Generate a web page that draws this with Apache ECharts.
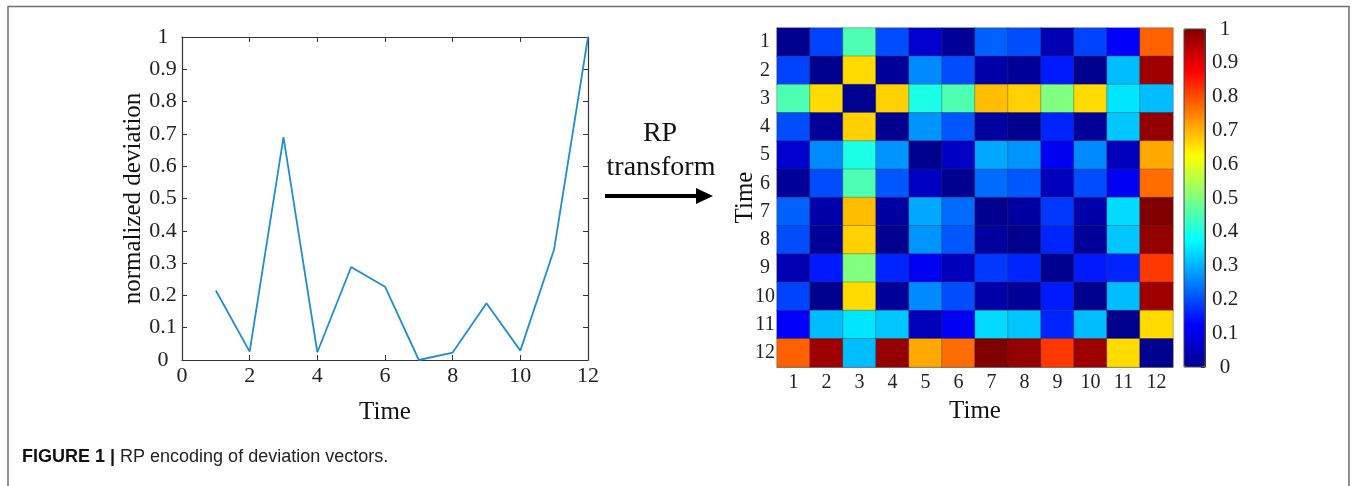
<!DOCTYPE html>
<html>
<head>
<meta charset="utf-8">
<script src="https://cdn.jsdelivr.net/npm/echarts@6/dist/echarts.min.js"></script>
<style>
  html, body { margin: 0; padding: 0; background: #fff; }
  #chart { width: 1356px; height: 486px; }
</style>
</head>
<body>
<div id="chart"></div>
<script>
// time steps and normalized deviation
const times = [1, 2, 3, 4, 5, 6, 7, 8, 9, 10, 11, 12];
const deviation = [0.215, 0.026, 0.69, 0.024, 0.288, 0.227, 0.0, 0.023, 0.176, 0.029, 0.343, 1.0];

// recurrence plot cells (row = y time, col = x time)
const rpRows = [
  [0.00, 0.19, 0.45, 0.20, 0.07, 0.01, 0.22, 0.20, 0.04, 0.19, 0.12, 0.78],
  [0.19, 0.00, 0.66, 0.01, 0.26, 0.20, 0.03, 0.01, 0.15, 0.00, 0.31, 0.97],
  [0.45, 0.66, 0.00, 0.67, 0.40, 0.45, 0.69, 0.67, 0.50, 0.66, 0.35, 0.31],
  [0.20, 0.01, 0.67, 0.00, 0.27, 0.21, 0.02, 0.00, 0.16, 0.01, 0.32, 0.98],
  [0.07, 0.26, 0.40, 0.27, 0.00, 0.06, 0.29, 0.27, 0.11, 0.26, 0.05, 0.71],
  [0.01, 0.20, 0.45, 0.21, 0.06, 0.00, 0.23, 0.21, 0.05, 0.20, 0.11, 0.77],
  [0.22, 0.03, 0.69, 0.02, 0.29, 0.23, 0.00, 0.02, 0.18, 0.03, 0.34, 1.00],
  [0.20, 0.01, 0.67, 0.00, 0.27, 0.21, 0.02, 0.00, 0.16, 0.01, 0.32, 0.98],
  [0.04, 0.15, 0.50, 0.16, 0.11, 0.05, 0.18, 0.16, 0.00, 0.15, 0.16, 0.82],
  [0.19, 0.00, 0.66, 0.01, 0.26, 0.20, 0.03, 0.01, 0.15, 0.00, 0.31, 0.97],
  [0.12, 0.31, 0.35, 0.32, 0.05, 0.11, 0.34, 0.32, 0.16, 0.31, 0.00, 0.66],
  [0.78, 0.97, 0.31, 0.98, 0.71, 0.77, 1.00, 0.98, 0.82, 0.97, 0.66, 0.00]
];
const timeLabels = ['1', '2', '3', '4', '5', '6', '7', '8', '9', '10', '11', '12'];
const jetColors = ['#00008f', '#0000ff', '#0080ff', '#00ffff', '#80ff80', '#ffff00', '#ff8000', '#ff0000', '#800000'];

const serif = 'Liberation Serif';
const axisColor = '#333';

const lineData = times.map((t, i) => [t, deviation[i]]);
const heatData = [];
rpRows.forEach((row, r) => {
  row.forEach((v, c) => heatData.push([c, r, v]));
});

const chart = echarts.init(document.getElementById('chart'));

// matlab style box: all four sides, ticks pointing in
const boxAxis = (extra) => Object.assign({
  type: 'value',
  axisLine: { show: true, onZero: false, lineStyle: { color: axisColor, width: 1.2 } },
  axisTick: { show: true, inside: true, length: 5, lineStyle: { color: axisColor } },
  splitLine: { show: false },
  axisLabel: { show: false }
}, extra);

chart.setOption({
  animation: false,
  backgroundColor: '#fff',
  grid: [
    { left: 182, top: 37, width: 406, height: 323 },
    { left: 777, top: 28, width: 396, height: 339 },
    { left: 1184, top: 29, width: 21, height: 338 }
  ],
  xAxis: [
    boxAxis({
      gridIndex: 0, min: 0, max: 12, interval: 2, position: 'bottom',
      axisLabel: { show: true, margin: 5, fontFamily: serif, fontSize: 22, color: '#222' },
      name: 'Time', nameLocation: 'middle', nameGap: 40, nameMoveOverlap: false,
      nameTextStyle: { fontFamily: serif, fontSize: 25, color: '#111' }
    }),
    boxAxis({ gridIndex: 0, min: 0, max: 12, interval: 2, position: 'top' }),
    {
      type: 'category', gridIndex: 1, data: timeLabels, position: 'bottom',
      axisLine: { show: true, onZero: false, lineStyle: { color: '#999' } },
      axisTick: { show: false },
      axisLabel: { margin: 6, fontFamily: serif, fontSize: 20, color: '#222' },
      name: 'Time', nameLocation: 'middle', nameGap: 32, nameMoveOverlap: false,
      nameTextStyle: { fontFamily: serif, fontSize: 25, color: '#111' }
    },
    { type: 'value', gridIndex: 2, min: 0, max: 1, show: false }
  ],
  yAxis: [
    boxAxis({
      gridIndex: 0, min: 0, max: 1, interval: 0.1, position: 'left',
      axisLabel: { show: true, margin: 19, align: 'center', fontFamily: serif, fontSize: 22, color: '#222' },
      name: 'normalized deviation', nameLocation: 'middle', nameGap: 36, nameMoveOverlap: false,
      nameTextStyle: { fontFamily: serif, fontSize: 25, color: '#111' }
    }),
    boxAxis({ gridIndex: 0, min: 0, max: 1, interval: 0.1, position: 'right' }),
    {
      type: 'category', gridIndex: 1, data: timeLabels, inverse: true, position: 'left',
      axisLine: { show: true, onZero: false, lineStyle: { color: '#999' } },
      axisTick: { show: false },
      axisLabel: { margin: 12, align: 'center', fontFamily: serif, fontSize: 20, color: '#222' },
      name: 'Time', nameLocation: 'middle', nameGap: 19, nameMoveOverlap: false,
      nameTextStyle: { fontFamily: serif, fontSize: 25, color: '#111' }
    },
    {
      type: 'value', gridIndex: 2, min: 0, max: 1, interval: 0.1, position: 'right',
      axisLine: { show: true, onZero: false, lineStyle: { color: axisColor } },
      axisTick: { show: true, inside: true, length: 4, lineStyle: { color: axisColor } },
      splitLine: { show: false },
      axisLabel: { margin: 20, align: 'center', padding: [4, 0, 0, 0], fontFamily: serif, fontSize: 21, color: '#222' }
    }
  ],
  visualMap: {
    type: 'continuous',
    seriesIndex: 1,
    min: 0,
    max: 1,
    left: 1184,
    top: 29,
    padding: 0,
    itemWidth: 21,
    itemHeight: 338,
    calculable: false,
    showLabel: false,
    text: null,
    inRange: { color: jetColors }
  },
  series: [
    {
      type: 'line',
      xAxisIndex: 0, yAxisIndex: 0,
      data: lineData,
      symbol: 'none',
      lineStyle: { color: '#1f8fcc', width: 1.8 },
      z: 3
    },
    {
      type: 'heatmap',
      xAxisIndex: 2, yAxisIndex: 2,
      data: heatData,
      itemStyle: { borderColor: 'rgba(60,60,60,0.45)', borderWidth: 0.8 }
    },
    {
      type: 'line',
      xAxisIndex: 3, yAxisIndex: 3,
      data: [],
      silent: true
    }
  ],
  graphic: [
    // outer frame
    {
      type: 'polyline',
      shape: { points: [[8, 486], [8, 6.5], [1349, 6.5], [1349, 486]] },
      style: { stroke: '#707070', lineWidth: 1.5, fill: null },
      silent: true
    },
    // colorbar outline
    {
      type: 'rect',
      shape: { x: 1184, y: 29, width: 21, height: 338 },
      style: { stroke: '#444', lineWidth: 1, fill: null },
      z: 10, silent: true
    },
    {
      type: 'text', x: 660, y: 134,
      style: { text: 'RP', font: '28px "Liberation Serif"', fill: '#111', align: 'center', verticalAlign: 'middle' }
    },
    {
      type: 'text', x: 661, y: 168,
      style: { text: 'transform', font: '28px "Liberation Serif"', fill: '#111', align: 'center', verticalAlign: 'middle' }
    },
    {
      type: 'line',
      shape: { x1: 605, y1: 196, x2: 700, y2: 196 },
      style: { stroke: '#000', lineWidth: 4 }
    },
    {
      type: 'polygon',
      shape: { points: [[696, 188], [713, 196], [696, 204]] },
      style: { fill: '#000' }
    },
    {
      type: 'text', x: 22, y: 457,
      style: {
        text: '{b|FIGURE 1 |} RP encoding of deviation vectors.',
        verticalAlign: 'middle',
        rich: {
          b: { fontFamily: 'Liberation Sans', fontWeight: 'bold', fontSize: 18, fill: '#111' }
        },
        fontFamily: 'Liberation Sans', fontSize: 18, fill: '#222'
      }
    }
  ]
});
</script>
</body>
</html>
